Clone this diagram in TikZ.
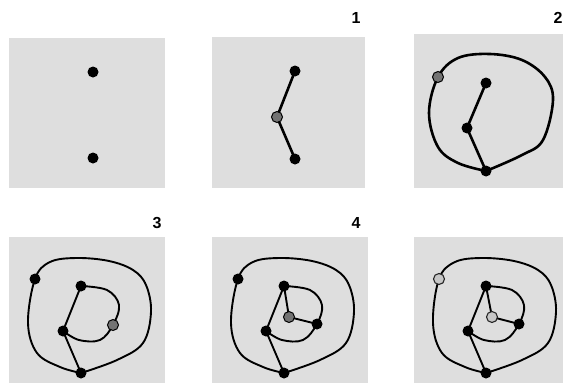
\documentclass[tikz,border=0pt]{standalone}
\usepackage{fontspec}
\setmainfont{Liberation Sans}
\pgfdeclarelayer{bg}
\pgfdeclarelayer{mid}
\pgfsetlayers{bg,mid,main}
\begin{document}
\begin{tikzpicture}[x=1pt,y=-1pt,
  panel/.style={fill=black!13},
  bdot/.style={circle,fill=black,inner sep=0pt,minimum size=11pt},
  gdot/.style={circle,fill=black!55,draw=black,line width=1pt,inner sep=0pt,minimum size=11pt},
  ldot/.style={circle,fill=black!22,draw=black!85,line width=1.1pt,inner sep=0pt,minimum size=11pt},
  thick edge/.style={line width=2.6pt,line cap=round,line join=round},
  thin edge/.style={line width=1.9pt,line cap=round,line join=round},
  lab/.style={font=\fontsize{16}{16}\selectfont\bfseries,inner sep=0pt}]
\useasboundingbox (0,0) rectangle (563,388);

% ---------- Panel 1 ----------
\begin{pgfonlayer}{bg}
\fill[panel] (9,38) rectangle (165,188);
\end{pgfonlayer}
\node[bdot] (pa1) at (93,72) {};
\node[bdot] (pa2) at (93,158) {};

% ---------- Panel 2 ----------
\begin{pgfonlayer}{bg}
\fill[panel] (212,37) rectangle (365,188);
\end{pgfonlayer}
\node[bdot] (pb1) at (295,71) {};
\node[gdot] (pb2) at (277,117) {};
\node[bdot] (pb3) at (295,159) {};
\node[lab] (lb1) at (356,18) {1};
\begin{pgfonlayer}{mid}
\draw[thick edge] (pb1.center) -- (pb2.center) -- (pb3.center);
\end{pgfonlayer}

% ---------- Panel 3 ----------
\begin{pgfonlayer}{bg}
\fill[panel] (414,34) rectangle (563,188);
\end{pgfonlayer}
\node[gdot] (pcG) at (438,77) {};
\node[bdot] (pcT) at (486,83) {};
\node[bdot] (pcM) at (467,128) {};
\node[bdot] (pcB) at (486,171) {};
\node[lab] (lb2) at (558,18) {2};
\begin{pgfonlayer}{mid}
\draw[thick edge] (pcT.center) -- (pcM.center) -- (pcB.center);
\draw[thick edge] plot[smooth,tension=0.6] coordinates {(pcB.center) (458,163) (438,147) (429,113) (pcG.center) (458,58) (490,54) (522,60) (545,77) (553,100) (543,140) (522,155) (pcB.center)};
\end{pgfonlayer}

% ---------- Bottom row ----------
\foreach \ox/\nm/\kind in {9/d/1, 212/e/2, 414/f/3}{
  \begin{scope}[shift={(\ox,237)}]
    \begin{pgfonlayer}{bg}
      \fill[panel] (0,0) rectangle (\ifnum\kind=3 149\else 156\fi,146);
    \end{pgfonlayer}
    \ifnum\kind=3
      \node[ldot] (\nm A) at (25,42) {};
    \else
      \node[bdot] (\nm A) at (26,42) {};
    \fi
    \node[bdot] (\nm B) at (72,49) {};
    \node[bdot] (\nm C) at (54,94) {};
    \node[bdot] (\nm D) at (72,136) {};
    \ifnum\kind=1
      \node[gdot] (\nm E) at (104,88) {};
    \else
      \node[bdot] (\nm E) at (105,87) {};
    \fi
    \ifnum\kind=2
      \node[gdot] (\nm F) at (77,80) {};
    \fi
    \ifnum\kind=3
      \node[ldot] (\nm F) at (78,80) {};
    \fi
    \begin{pgfonlayer}{mid}
      \draw[thin edge] (\nm B.center) -- (\nm C.center) -- (\nm D.center);
      \draw[thin edge] plot[smooth,tension=0.6] coordinates {(\nm D.center) (51,130) (28,116) (19,86) (\nm A.center) (41,25) (68,21) (100,24) (124,33) (137,48) (142,75) (134,106) (108,123) (\nm D.center)};
      \draw[thin edge] plot[smooth,tension=0.6] coordinates {(\nm B.center) (98,53) (110,68) (\nm E.center) (91,103) (70,103) (\nm C.center)};
      \ifnum\kind>1
        \draw[thin edge] (\nm B.center) -- (\nm F.center) -- (\nm E.center);
      \fi
    \end{pgfonlayer}
  \end{scope}
}
\node[lab] (lb3) at (157,223) {3};
\node[lab] (lb4) at (356,223) {4};
\end{tikzpicture}
\end{document}
